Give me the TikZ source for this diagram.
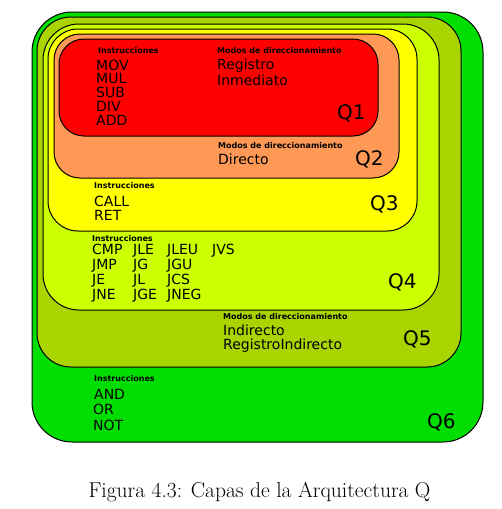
\documentclass[tikz,border=0pt]{standalone}
\usepackage{fontspec}
\usepackage{xcolor}
\usepackage{tikz}
\newfontfamily\dejavu{DejaVu Sans}

\definecolor{colQuno}{HTML}{FF0000}
\definecolor{colQdos}{HTML}{FF9955}
\definecolor{colQtres}{HTML}{FFFF00}
\definecolor{colQcuatro}{HTML}{CCFF00}
\definecolor{colQcinco}{HTML}{AAD400}
\definecolor{colQseis}{HTML}{00DD00}

\begin{document}
\begin{tikzpicture}[x=1pt, y=-1pt,
    capa/.style={draw=black, line width=1pt, rounded corners=#1},
    titulo/.style={anchor=base west, inner sep=0pt, font=\dejavu\fontsize{8}{9}\selectfont\bfseries},
    item/.style={anchor=base west, inner sep=0pt, font=\dejavu\fontsize{14}{14}\selectfont},
    etiqueta/.style={anchor=base west, inner sep=0pt, font=\dejavu\fontsize{20}{20}\selectfont}]

    \useasboundingbox (0,0) rectangle (502,509);

    % =================================================================
    % CAPAS (de afuera hacia adentro)
    % =================================================================
    \draw[capa=40pt, fill=colQseis]   (32,12) rectangle (483,442);
    \draw[capa=34pt, fill=colQcinco]  (37,17) rectangle (461,367);
    \draw[capa=36pt, fill=colQcuatro] (43,24) rectangle (439,310);
    \draw[capa=30pt, fill=colQtres]   (48,29) rectangle (417,231);
    \draw[capa=26pt, fill=colQdos]    (54,34) rectangle (399,178);
    \draw[capa=25pt, fill=colQuno]    (59,39) rectangle (378,136);

    % =================================================================
    % Q1
    % =================================================================
    \node[titulo] (q1ins) at (98,53) {Instrucciones};
    \node[titulo] (q1mod) at (217,53) {Modos de direccionamiento};
    \foreach \t [count=\i from 0] in {MOV, MUL, SUB, DIV, ADD}
        \node[item] (q1i\i) at (96,70+13.8*\i) {\t};
    \node[item] (q1reg) at (217,69) {Registro};
    \node[item] (q1inm) at (217,85) {Inmediato};
    \node[etiqueta] (q1) at (337,119) {Q1};

    % =================================================================
    % Q2
    % =================================================================
    \node[titulo] (q2mod) at (218,148) {Modos de direccionamiento};
    \node[item] (q2dir) at (218,164) {Directo};
    \node[etiqueta] (q2) at (355,165) {Q2};

    % =================================================================
    % Q3
    % =================================================================
    \node[titulo] (q3ins) at (94,188) {Instrucciones};
    \node[item] (q3call) at (94,206) {CALL};
    \node[item] (q3ret) at (94,220) {RET};
    \node[etiqueta] (q3) at (370,210) {Q3};

    % =================================================================
    % Q4
    % =================================================================
    \node[titulo] (q4ins) at (92,241) {Instrucciones};
    \foreach \a/\b/\c [count=\i from 0] in {CMP/JLE/JLEU, JMP/JG/JGU, JE/JL/JCS, JNE/JGE/JNEG} {
        \node[item] (q4a\i) at (92,254+15*\i) {\a};
        \node[item] (q4b\i) at (133,254+15*\i) {\b};
        \node[item] (q4c\i) at (167,254+15*\i) {\c};
    }
    \node[item] (q4jvs) at (212,254) {JVS};
    \node[etiqueta] (q4) at (388,288) {Q4};

    % =================================================================
    % Q5
    % =================================================================
    \node[titulo] (q5mod) at (223,319) {Modos de direccionamiento};
    \node[item] (q5ind) at (223,335) {Indirecto};
    \node[item] (q5rind) at (223,349) {RegistroIndirecto};
    \node[etiqueta] (q5) at (403,345) {Q5};

    % =================================================================
    % Q6
    % =================================================================
    \node[titulo] (q6ins) at (94,381) {Instrucciones};
    \node[item] (q6and) at (94,399) {AND};
    \node[item] (q6or) at (93,414) {OR};
    \node[item] (q6not) at (93,430) {NOT};
    \node[etiqueta] (q6) at (427,428) {Q6};

    % Pie de figura
    \node[anchor=base, inner sep=0pt, font=\fontsize{21.5}{26}\selectfont] (pie) at (259.5,497)
        {Figura 4.3: Capas de la Arquitectura Q};

\end{tikzpicture}
\end{document}
